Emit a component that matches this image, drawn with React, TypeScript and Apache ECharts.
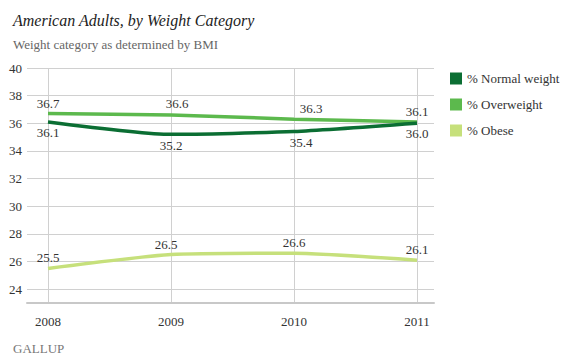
import React, { useEffect, useRef } from "react";
import * as echarts from "echarts";

const years = ["2008", "2009", "2010", "2011"];
const normalWeight = [36.1, 35.2, 35.4, 36.0];
const overweight = [36.7, 36.6, 36.3, 36.1];
const obese = [25.5, 26.5, 26.6, 26.1];
const seriesNames = ["% Normal weight", "% Overweight", "% Obese"];
const colors = ["#0b6e33", "#5cb94d", "#c6e07b"];

// label offsets [dx, dy] per point
const normalOffsets = [[0, 0], [0, 1], [7, 0], [0, 0]];
const overOffsets = [[0, 0], [6, -1], [17, 0], [0, 0]];
const obeseOffsets = [[0, 0], [-5, 0], [0, 0], [0, 0]];

const FONT = "'Liberation Serif', 'DejaVu Serif', serif";

function mk(values: number[], offs: number[][], pos: string) {
  return values.map((v, i) => ({
    value: v,
    label: { offset: offs[i], position: pos },
  }));
}

export default function App() {
  const ref = useRef<HTMLDivElement>(null);
  useEffect(() => {
    const chart = echarts.init(ref.current!, null, { renderer: "svg" });
    const labelBase = {
      show: true,
      color: "#333",
      fontFamily: FONT,
      fontSize: 13,
      distance: 4,
      formatter: (p: any) => Number(p.value).toFixed(1),
    };
    const lineCommon = {
      type: "line",
      xAxisIndex: 0,
      yAxisIndex: 0,
      smooth: 0.2,
      symbol: "circle",
      symbolSize: 0.01,
      showSymbol: true,
      label: labelBase,
    };
    chart.setOption({
      animation: false,
      backgroundColor: "#fff",
      title: [
        {
          text: "American Adults, by Weight Category",
          left: 8,
          top: 7,
          textStyle: { fontFamily: FONT, fontStyle: "italic", fontWeight: "normal", fontSize: 16, color: "#222" },
        },
        {
          text: "Weight category as determined by BMI",
          left: 8,
          top: 33,
          textStyle: { fontFamily: FONT, fontWeight: "normal", fontSize: 13, color: "#666" },
        },
        {
          text: "GALLUP",
          left: 8,
          top: 337,
          textStyle: { fontFamily: FONT, fontWeight: "normal", fontSize: 13, color: "#777" },
        },
      ],
      legend: {
        orient: "vertical",
        left: 445,
        top: 67,
        icon: "rect",
        itemWidth: 12,
        itemHeight: 12,
        itemGap: 13,
        data: seriesNames,
        textStyle: { fontFamily: FONT, fontSize: 13, color: "#333" },
      },
      grid: [
        { left: 48, right: 151, top: 68, bottom: 55 },
        { left: 27, right: 134, top: 68, bottom: 55 },
      ],
      xAxis: [
        {
          type: "category",
          gridIndex: 0,
          data: years,
          boundaryGap: false,
          axisLine: { show: false },
          axisTick: { show: false },
          splitLine: { show: true, lineStyle: { color: "#d0d0d0", width: 1 } },
          axisLabel: { fontFamily: FONT, fontSize: 13, color: "#333", margin: 12 },
        },
        {
          type: "value",
          gridIndex: 1,
          min: 0,
          max: 1,
          axisLine: { show: true, lineStyle: { color: "#c8c8c8", width: 2 } },
          axisTick: { show: false },
          axisLabel: { show: false },
          splitLine: { show: false },
        },
      ],
      yAxis: [
        {
          type: "value",
          gridIndex: 0,
          min: 23,
          max: 40,
          show: false,
          splitLine: { show: false },
        },
        {
          type: "value",
          gridIndex: 1,
          min: 23,
          max: 40,
          interval: 1,
          axisLine: { show: false },
          axisTick: { show: false },
          axisLabel: {
            fontFamily: FONT,
            fontSize: 13,
            color: "#333",
            margin: 5,
            formatter: (v: number) => (v % 2 === 0 ? String(v) : ""),
          },
          splitLine: { show: true, lineStyle: { color: ["rgba(0,0,0,0)", "#d0d0d0"], width: 1 } },
        },
      ],
      series: [
        {
          ...lineCommon,
          name: seriesNames[0],
          data: mk(normalWeight, normalOffsets, "bottom"),
          color: colors[0],
          itemStyle: { color: colors[0] },
          lineStyle: { width: 3.5, color: colors[0] },
          z: 5,
        },
        {
          ...lineCommon,
          name: seriesNames[1],
          data: mk(overweight, overOffsets, "top"),
          color: colors[1],
          itemStyle: { color: colors[1] },
          lineStyle: { width: 3.5, color: colors[1] },
          z: 4,
        },
        {
          ...lineCommon,
          name: seriesNames[2],
          data: mk(obese, obeseOffsets, "top"),
          color: colors[2],
          itemStyle: { color: colors[2] },
          lineStyle: { width: 3.5, color: colors[2] },
          z: 3,
        },
      ],
    });
    return () => chart.dispose();
  }, []);
  return <div ref={ref} style={{ width: 568, height: 358, position: "absolute", left: 0, top: 0 }} />;
}
